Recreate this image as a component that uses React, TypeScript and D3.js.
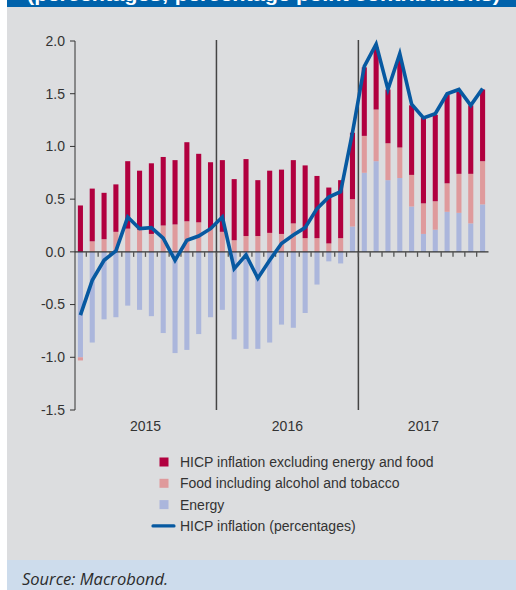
import React, { useEffect, useRef } from 'react';
import * as d3 from 'd3';

// monthly categories, Jan 2015 - Nov 2017
const months: string[] = [
  '2015-01', '2015-02', '2015-03', '2015-04', '2015-05', '2015-06', '2015-07', '2015-08', '2015-09', '2015-10', '2015-11', '2015-12',
  '2016-01', '2016-02', '2016-03', '2016-04', '2016-05', '2016-06', '2016-07', '2016-08', '2016-09', '2016-10', '2016-11', '2016-12',
  '2017-01', '2017-02', '2017-03', '2017-04', '2017-05', '2017-06', '2017-07', '2017-08', '2017-09', '2017-10', '2017-11',
];

const years = ['2015', '2016', '2017'];

// contributions, percentage points
const core = [
  0.44, 0.50, 0.44, 0.45, 0.64, 0.56, 0.67, 0.65, 0.61, 0.75, 0.65, 0.63,
  0.68, 0.58, 0.73, 0.53, 0.59, 0.61, 0.60, 0.69, 0.59, 0.53, 0.55, 0.63,
  0.65, 0.59, 0.51, 0.83, 0.66, 0.81, 0.82, 0.84, 0.78, 0.65, 0.68,
];
const food = [
  -0.03, 0.10, 0.12, 0.19, 0.22, 0.21, 0.17, 0.25, 0.26, 0.29, 0.28, 0.22,
  0.19, 0.11, 0.15, 0.15, 0.18, 0.17, 0.27, 0.13, 0.13, 0.08, 0.13, 0.26,
  0.35, 0.49, 0.35, 0.29, 0.30, 0.29, 0.27, 0.27, 0.37, 0.47, 0.41,
];
const energy = [
  -1.00, -0.86, -0.64, -0.62, -0.51, -0.55, -0.61, -0.77, -0.96, -0.93, -0.78, -0.62,
  -0.55, -0.83, -0.92, -0.92, -0.86, -0.69, -0.72, -0.58, -0.31, -0.09, -0.11, 0.24,
  0.75, 0.86, 0.68, 0.70, 0.43, 0.17, 0.21, 0.38, 0.37, 0.27, 0.45,
];
const hicp = [
  -0.60, -0.27, -0.08, 0.01, 0.33, 0.22, 0.23, 0.13, -0.08, 0.11, 0.15, 0.22,
  0.33, -0.16, -0.03, -0.25, -0.08, 0.08, 0.16, 0.23, 0.41, 0.52, 0.57, 1.13,
  1.76, 1.97, 1.54, 1.88, 1.40, 1.27, 1.31, 1.50, 1.54, 1.39, 1.55,
];

const yTicks = [-1.5, -1.0, -0.5, 0.0, 0.5, 1.0, 1.5, 2.0];

const COLORS = {
  core: '#b1003f',
  food: '#df9a9c',
  energy: '#abb6dc',
  line: '#0759a1',
};

const legendItems = [
  { label: 'HICP inflation excluding energy and food', color: COLORS.core, kind: 'box' },
  { label: 'Food including alcohol and tobacco', color: COLORS.food, kind: 'box' },
  { label: 'Energy', color: COLORS.energy, kind: 'box' },
  { label: 'HICP inflation (percentages)', color: COLORS.line, kind: 'line' },
];

const FONT = '"Liberation Sans", Arial, sans-serif';

const App: React.FC = () => {
  const ref = useRef<SVGSVGElement>(null);

  useEffect(() => {
    if (!ref.current) return;
    const svg = d3.select(ref.current);
    svg.selectAll('*').remove();

    const width = 516;
    const height = 590;

    // backgrounds
    svg.append('rect').attr('width', width).attr('height', height).attr('fill', '#ffffff');
    svg.append('rect').attr('x', 7).attr('y', 0).attr('width', width - 7).attr('height', 560).attr('fill', '#dcdddf');
    svg.append('rect').attr('x', 7).attr('y', 0).attr('width', width - 7).attr('height', 7).attr('fill', '#0062ab');
    svg.append('clipPath').attr('id', 'titleclip')
      .append('rect').attr('x', 7).attr('y', 0).attr('width', width - 7).attr('height', 7);
    // title sits mostly above the visible area, only its lower edge shows
    svg.append('text')
      .attr('clip-path', 'url(#titleclip)')
      .attr('x', 27)
      .attr('y', 1)
      .attr('textLength', 473)
      .attr('lengthAdjust', 'spacingAndGlyphs')
      .style('font-family', FONT)
      .style('font-size', '18px')
      .style('font-weight', 'bold')
      .style('fill', '#ffffff')
      .text('(percentages; percentage point contributions)');
    svg.append('rect').attr('x', 7).attr('y', 560).attr('width', width - 7).attr('height', 30).attr('fill', '#cddcec');
    svg.append('text')
      .attr('x', 22)
      .attr('y', 585)
      .style('font-family', '"Open Sans", sans-serif')
      .style('font-size', '16.5px')
      .style('font-style', 'italic')
      .style('fill', '#2b2b2b')
      .text('Source: Macrobond.');

    const x = d3.scaleBand<string>().domain(months).range([74.5, 488.5]).padding(0);
    const y = d3.scaleLinear().domain([-1.5, 2.0]).range([410, 41]);
    const barW = x.bandwidth() * 0.43;

    // y axis
    const g = svg.append('g');
    g.append('line')
      .attr('x1', 75).attr('x2', 75)
      .attr('y1', y(2.0)).attr('y2', y(-1.5))
      .attr('stroke', '#333').attr('stroke-width', 1);
    yTicks.forEach((t) => {
      g.append('line')
        .attr('x1', 70).attr('x2', 75)
        .attr('y1', y(t)).attr('y2', y(t))
        .attr('stroke', '#333').attr('stroke-width', 1);
      g.append('text')
        .attr('x', 65)
        .attr('y', y(t))
        .attr('dy', '0.35em')
        .attr('text-anchor', 'end')
        .style('font-family', FONT)
        .style('font-size', '14px')
        .style('fill', '#333')
        .text(t.toFixed(1));
    });

    // year separators
    years.slice(1).forEach((yr) => {
      const xv = x(`${yr}-01`)!;
      g.append('line')
        .attr('x1', xv).attr('x2', xv)
        .attr('y1', y(2.0) - 1).attr('y2', y(-1.5))
        .attr('stroke', '#444').attr('stroke-width', 1.5);
    });

    // stacked bars
    const rows = months.map((m, i) => ({ month: m, energy: energy[i], food: food[i], core: core[i] }));
    const stack = d3.stack<any>()
      .keys(['energy', 'food', 'core'])
      .offset(d3.stackOffsetDiverging);
    const series = stack(rows);
    series.forEach((s) => {
      g.append('g')
        .attr('fill', (COLORS as any)[s.key])
        .selectAll('rect')
        .data(s)
        .enter()
        .append('rect')
        .attr('x', (d: any) => x(d.data.month)! + (x.bandwidth() - barW) / 2)
        .attr('width', barW)
        .attr('y', (d) => y(Math.max(d[0], d[1])))
        .attr('height', (d) => Math.abs(y(d[0]) - y(d[1])));
    });

    // zero axis with month ticks
    g.append('line')
      .attr('x1', 75).attr('x2', 488.5)
      .attr('y1', y(0)).attr('y2', y(0))
      .attr('stroke', '#333').attr('stroke-width', 1.2);
    months.slice(1).forEach((m) => {
      const xv = x(m)!;
      g.append('line')
        .attr('x1', xv).attr('x2', xv)
        .attr('y1', y(0)).attr('y2', y(0) + 5)
        .attr('stroke', '#555').attr('stroke-width', 1.3);
    });

    // HICP line
    const line = d3.line<number>()
      .x((_, i) => x(months[i])! + x.bandwidth() / 2)
      .y((d) => y(d));
    g.append('path')
      .datum(hicp)
      .attr('fill', 'none')
      .attr('stroke', COLORS.line)
      .attr('stroke-width', 3.6)
      .attr('stroke-linejoin', 'miter')
      .attr('d', line);

    // year labels
    years.forEach((yr) => {
      const first = x(`${yr}-01`)!;
      const inYear = months.filter((m) => m.startsWith(yr));
      const last = x(inYear[inYear.length - 1])! + x.bandwidth();
      g.append('text')
        .attr('x', (first + last) / 2)
        .attr('y', 431)
        .attr('text-anchor', 'middle')
        .style('font-family', FONT)
        .style('font-size', '14px')
        .style('fill', '#333')
        .text(yr);
    });

    // legend
    const lg = svg.append('g').attr('transform', 'translate(0,462)');
    legendItems.forEach((item, i) => {
      const cy = i * 21.3;
      if (item.kind === 'box') {
        lg.append('rect')
          .attr('x', 159.5).attr('y', cy - 4.5)
          .attr('width', 9).attr('height', 9)
          .attr('fill', item.color);
      } else {
        lg.append('line')
          .attr('x1', 153).attr('x2', 174)
          .attr('y1', cy).attr('y2', cy)
          .attr('stroke', item.color).attr('stroke-width', 3.2)
          .attr('stroke-linecap', 'round');
      }
      lg.append('text')
        .attr('x', 180)
        .attr('y', cy)
        .attr('dy', '0.35em')
        .style('font-family', FONT)
        .style('font-size', '14px')
        .style('fill', '#333')
        .text(item.label);
    });
  }, []);

  return (
    <svg
      ref={ref}
      width={516}
      height={590}
      style={{ position: 'absolute', left: 0, top: 0, display: 'block' }}
    />
  );
};

export default App;
